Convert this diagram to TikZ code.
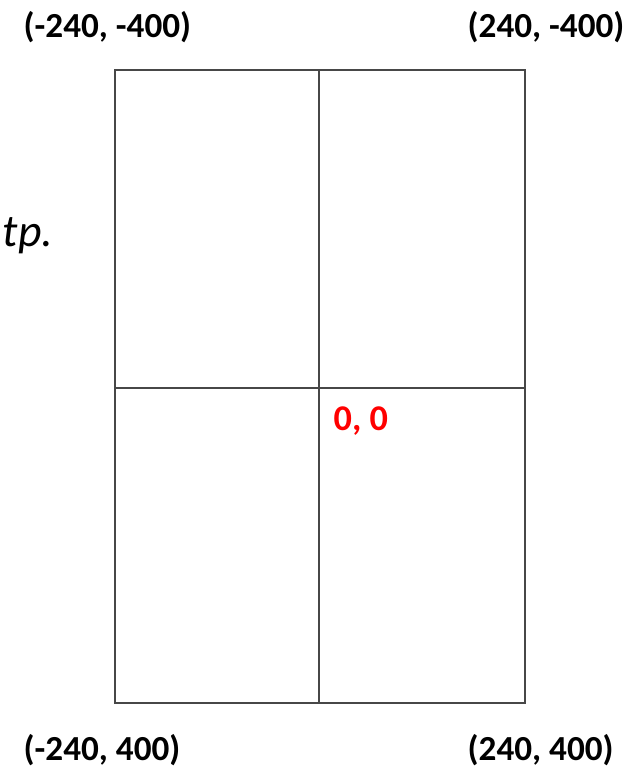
\documentclass[tikz,border=0pt]{standalone}
\usepackage{fontspec}
\usepackage{xcolor}
\newfontfamily\calfont{Carlito}
\usetikzlibrary{positioning}

\begin{document}
\begin{tikzpicture}[
  x=0.01cm, y=-0.01cm,
  grid/.style={draw=black!72, line width=0.6pt},
  corner/.style={font=\calfont\bfseries\fontsize{10pt}{12pt}\selectfont,
    inner sep=0pt, anchor=west},
  origin/.style={font=\calfont\bfseries\fontsize{10.3pt}{12pt}\selectfont,
    text=red, inner sep=0pt, anchor=base west},
  note/.style={font=\calfont\itshape\fontsize{13pt}{15pt}\selectfont,
    inner sep=0pt, anchor=base west},
]
\useasboundingbox (0,0) rectangle (640,767);

% Frame corners and midpoints
\coordinate (tl) at (115,70);
\coordinate (br) at (525,703);
\coordinate (top) at (319,70);
\coordinate (bot) at (319,703);
\coordinate (lft) at (115,388);
\coordinate (rgt) at (525,388);

\draw[grid] (tl) rectangle (br);
\draw[grid] (top) -- (bot);
\draw[grid] (lft) -- (rgt);

% Corner labels
\node[corner] (ctl) at (23,27) {(-240, -400)};
\node[corner] (ctr) at (467,27) {(240, -400)};
\node[corner] (cbl) at (23,750) {(-240, 400)};
\node[corner] (cbr) at (467,750) {(240, 400)};

% Origin
\node[origin] (zero) at (333,430) {0, 0};

% Text on the left
\node[note] (cut) at (2,246) {tp.};

\end{tikzpicture}
\end{document}
